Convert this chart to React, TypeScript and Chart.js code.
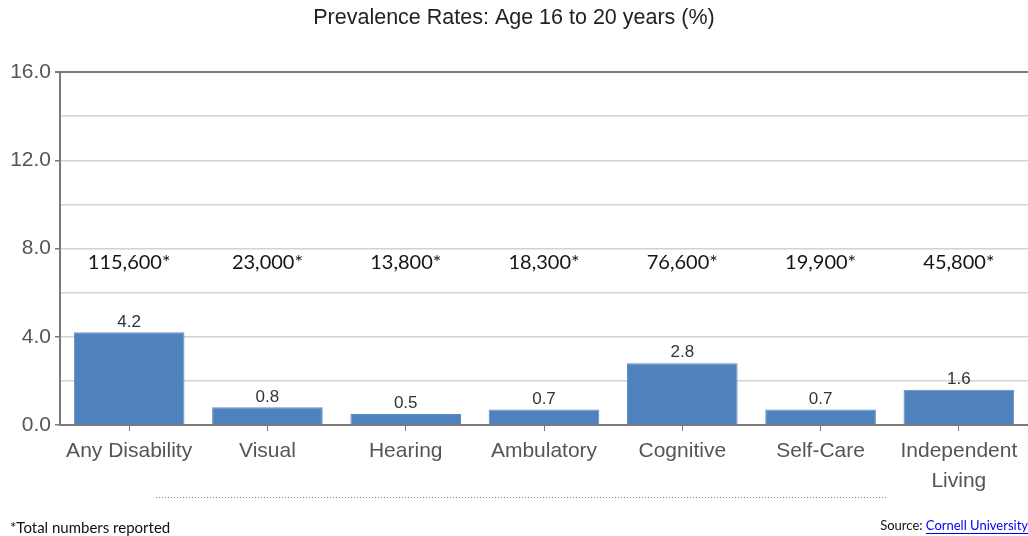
import React, { useEffect, useRef } from "react";
import { Chart, registerables } from "chart.js";

Chart.register(...registerables);

const categories: (string | string[])[] = [
  "Any Disability",
  "Visual",
  "Hearing",
  "Ambulatory",
  "Cognitive",
  "Self-Care",
  ["Independent", "Living"],
];
const prevalence = [4.2, 0.8, 0.5, 0.7, 2.8, 0.7, 1.6];
const totals = ["115,600*", "23,000*", "13,800*", "18,300*", "76,600*", "19,900*", "45,800*"];
const titleText = "Prevalence Rates: Age 16 to 20 years (%)";
const footnote = "*Total numbers reported";
const sourceLabel = "Source: ";
const sourceLink = "Cornell University";

const SANS = "'Liberation Sans', Arial, sans-serif";
const CAL = "Lato, 'Open Sans', sans-serif";

const overlayPlugin = {
  id: "overlay",
  afterDatasetsDraw(chart: any) {
    const ctx = chart.ctx;
    const meta = chart.getDatasetMeta(0);
    const xScale = chart.scales.x;
    ctx.save();
    // value labels
    ctx.font = `17px ${SANS}`;
    ctx.fillStyle = "#333";
    ctx.textAlign = "center";
    ctx.textBaseline = "bottom";
    meta.data.forEach((bar: any, i: number) => {
      ctx.fillText(prevalence[i].toFixed(1), bar.x, bar.y - 2);
    });
    // totals
    ctx.font = `20px ${CAL}`;
    ctx.fillStyle = "#151515";
    ctx.textBaseline = "middle";
    totals.forEach((t, i) => {
      ctx.fillText(t, xScale.getPixelForValue(i), 263);
    });
    // dotted line
    ctx.strokeStyle = "#8a8a8a";
    ctx.lineWidth = 1;
    ctx.setLineDash([1, 2]);
    ctx.beginPath();
    ctx.moveTo(156, 497.5);
    ctx.lineTo(888, 497.5);
    ctx.stroke();
    ctx.setLineDash([]);
    // footnote
    ctx.textAlign = "left";
    ctx.textBaseline = "middle";
    ctx.font = `15px ${CAL}`;
    ctx.fillStyle = "#111";
    ctx.fillText(footnote, 10, 528);
    // source
    ctx.font = `13px ${CAL}`;
    const wLink = ctx.measureText(sourceLink).width;
    const wLabel = ctx.measureText(sourceLabel).width;
    const endX = 1028;
    const linkX = endX - wLink;
    ctx.fillStyle = "#111";
    ctx.fillText(sourceLabel, linkX - wLabel, 526);
    ctx.fillStyle = "#0000ee";
    ctx.fillText(sourceLink, linkX, 526);
    ctx.fillRect(linkX, 533, wLink, 1);
    ctx.restore();
  },
};

export default function App() {
  const ref = useRef<HTMLCanvasElement | null>(null);
  useEffect(() => {
    if (!ref.current) return;
    const chart = new Chart(ref.current, {
      type: "bar",
      data: {
        labels: categories,
        datasets: [
          {
            data: prevalence,
            backgroundColor: "#4f81bd",
            borderColor: "#5b8cc8",
            borderWidth: 1,
            categoryPercentage: 1,
            barPercentage: 0.8,
          },
        ],
      },
      options: {
        responsive: false,
        animation: false,
        layout: { padding: { top: 0, left: 0, right: 0, bottom: 0 } },
        plugins: {
          legend: { display: false },
          tooltip: { enabled: false },
          title: {
            display: true,
            text: titleText,
            color: "#222",
            font: { family: SANS, size: 21.5, weight: "normal", lineHeight: 1.2 },
            padding: { top: 5, bottom: 41.2 },
          },
        },
        scales: {
          x: {
            afterFit(scale: any) {
              scale.height = 111;
            },
            border: { display: true, color: "#7a7a7a", width: 2 },
            grid: {
              offset: false,
              drawOnChartArea: false,
              drawTicks: true,
              tickLength: 6,
              tickColor: "#7a7a7a",
            },
            ticks: {
              color: "#555",
              padding: 5,
              maxRotation: 0,
              autoSkip: false,
              font: { family: SANS, size: 21, lineHeight: 1.43 },
            },
          },
          y: {
            min: 0,
            max: 16,
            afterFit(scale: any) {
              scale.width = 60;
            },
            border: { display: true, color: "#7a7a7a", width: 2 },
            grid: {
              color: (c: any) => (c.tick && c.tick.value === 16 ? "#7a7a7a" : "#d2d2d2"),
              lineWidth: (c: any) => (c.tick && c.tick.value === 16 ? 2 : 1.5),
              tickLength: 5,
              tickColor: (c: any) => (c.tick && c.tick.value % 4 === 0 ? "#7a7a7a" : "rgba(0,0,0,0)"),
            },
            ticks: {
              stepSize: 2,
              color: "#555",
              padding: 4,
              font: { family: SANS, size: 21 },
              callback: (v: any) => (Number(v) % 4 === 0 ? Number(v).toFixed(1) : ""),
            },
          },
        },
      },
      plugins: [overlayPlugin],
    });
    return () => chart.destroy();
  }, []);
  return (
    <div style={{ position: "absolute", left: 0, top: 0, width: 1028, height: 536, background: "#fff" }}>
      <canvas ref={ref} width={1028} height={536} style={{ display: "block" }} />
    </div>
  );
}
